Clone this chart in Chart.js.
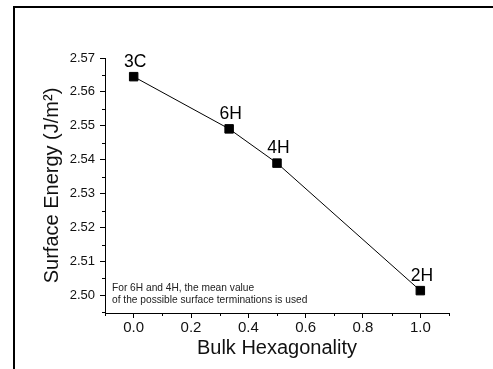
<!DOCTYPE html>
<html lang="en">
<head>
  <meta charset="UTF-8">
  <title>Surface Energy vs Bulk Hexagonality</title>
  <style>
    body {
      margin: 0;
      padding: 0;
      background: #fff;
    }
    .wrap {
      position: relative;
      width: 493px;
      height: 369px;
      overflow: hidden;
    }
    .frame {
      position: absolute;
      left: 13px;
      top: 6px;
      width: 500px;
      height: 400px;
      border-left: 2.5px solid #000;
      border-top: 2.5px solid #000;
      pointer-events: none;
    }
  </style>
</head>
<body>
  <div class="wrap">
    <canvas id="myChart" width="493" height="369"></canvas>
    <div class="frame"></div>
  </div>

  <script src="https://cdn.jsdelivr.net/npm/chart.js@4.4.0/dist/chart.umd.min.js"></script>
  <script>
    // data
    const phases = ['3C', '6H', '4H', '2H'];
    const hexagonality = [0, 0.333, 0.5, 1.0];
    const surfaceEnergy = [2.5645, 2.5491, 2.5390, 2.5014];

    const xMajorTicks = [0.0, 0.2, 0.4, 0.6, 0.8, 1.0];
    const xMinorTicks = [-0.1, 0.1, 0.3, 0.5, 0.7, 0.9, 1.1];
    const yMajorTicks = [2.50, 2.51, 2.52, 2.53, 2.54, 2.55, 2.56, 2.57];
    const yMinorTicks = [2.495, 2.505, 2.515, 2.525, 2.535, 2.545, 2.555, 2.565];

    const noteLines = [
      'For 6H and 4H, the mean value',
      'of the possible surface terminations is used'
    ];

    const FONT = '"Liberation Sans", Arial, sans-serif';

    function buildTicks(major, minor) {
      const all = major.map(v => ({ value: v, minor: false }))
        .concat(minor.map(v => ({ value: v, minor: true })));
      all.sort((a, b) => a.value - b.value);
      return all;
    }

    // short minor ticks, the labels above each point and the note
    const extras = {
      id: 'extras',
      afterDraw(chart) {
        const ctx = chart.ctx;
        const xs = chart.scales.x;
        const ys = chart.scales.y;
        const area = chart.chartArea;

        ctx.save();
        ctx.strokeStyle = '#000';
        ctx.lineWidth = 1;
        ctx.beginPath();
        xs.ticks.forEach(t => {
          if (!t.minor) return;
          const px = Math.round(xs.getPixelForValue(t.value)) + 0.5;
          ctx.moveTo(px, area.bottom);
          ctx.lineTo(px, area.bottom + 3);
        });
        ys.ticks.forEach(t => {
          if (!t.minor) return;
          const py = Math.round(ys.getPixelForValue(t.value)) + 0.5;
          ctx.moveTo(area.left, py);
          ctx.lineTo(area.left - 3, py);
        });
        ctx.stroke();

        // phase labels
        const meta = chart.getDatasetMeta(0);
        ctx.fillStyle = '#000';
        ctx.font = '17.5px ' + FONT;
        ctx.textAlign = 'center';
        ctx.textBaseline = 'alphabetic';
        meta.data.forEach((pt, i) => {
          ctx.fillText(phases[i], pt.x + 1.5, pt.y - 10);
        });

        // note in the lower left corner
        ctx.font = '10.2px ' + FONT;
        ctx.fillStyle = '#222';
        ctx.textAlign = 'left';
        ctx.textBaseline = 'middle';
        noteLines.forEach((line, i) => {
          ctx.fillText(line, area.left + 7, area.bottom - 25 + i * 12.5);
        });
        ctx.restore();
      }
    };

    const ctx = document.getElementById('myChart').getContext('2d');
    const myChart = new Chart(ctx, {
      type: 'scatter',
      data: {
        datasets: [{
          label: 'Surface energy',
          data: hexagonality.map((x, i) => ({ x: x, y: surfaceEnergy[i] })),
          showLine: true,
          borderColor: '#000',
          borderWidth: 1,
          backgroundColor: '#000',
          pointStyle: 'rect',
          pointRadius: 6,
          pointBorderWidth: 1,
          pointBorderColor: '#000',
          pointBackgroundColor: '#000'
        }]
      },
      options: {
        responsive: false,
        animation: false,
        devicePixelRatio: 1,
        layout: {
          padding: { left: 30, top: 58, right: 44, bottom: 0 }
        },
        plugins: {
          legend: { display: false },
          tooltip: { enabled: false }
        },
        scales: {
          x: {
            type: 'linear',
            min: -0.1,
            max: 1.1,
            afterBuildTicks: scale => { scale.ticks = buildTicks(xMajorTicks, xMinorTicks); },
            afterFit: scale => { scale.height = 56; },
            border: { display: true, color: '#000', width: 1 },
            grid: {
              drawOnChartArea: false,
              drawTicks: true,
              tickLength: 5,
              tickColor: c => (c.tick && c.tick.minor) ? 'rgba(0,0,0,0)' : '#000'
            },
            ticks: {
              autoSkip: false,
              maxRotation: 0,
              padding: 1,
              color: '#111',
              font: { family: FONT, size: 15 },
              callback: function (value, index, ticks) {
                return ticks[index].minor ? '' : Number(value).toFixed(1);
              }
            },
            title: {
              display: true,
              text: 'Bulk Hexagonality',
              color: '#111',
              font: { family: FONT, size: 20 },
              padding: { top: 0, bottom: 9 }
            }
          },
          y: {
            type: 'linear',
            min: 2.4948,
            max: 2.57,
            afterBuildTicks: scale => { scale.ticks = buildTicks(yMajorTicks, yMinorTicks); },
            afterFit: scale => { scale.width = 75; },
            border: { display: true, color: '#000', width: 1 },
            grid: {
              drawOnChartArea: false,
              drawTicks: true,
              tickLength: 5,
              tickColor: c => (c.tick && c.tick.minor) ? 'rgba(0,0,0,0)' : '#000'
            },
            ticks: {
              autoSkip: false,
              padding: 5,
              color: '#111',
              font: { family: FONT, size: 13 },
              callback: function (value, index, ticks) {
                return ticks[index].minor ? '' : Number(value).toFixed(2);
              }
            },
            title: {
              display: true,
              text: 'Surface Energy (J/m²)',
              color: '#111',
              font: { family: FONT, size: 20 },
              padding: { top: 10, bottom: 0 }
            }
          }
        }
      },
      plugins: [extras]
    });
  </script>
</body>
</html>
